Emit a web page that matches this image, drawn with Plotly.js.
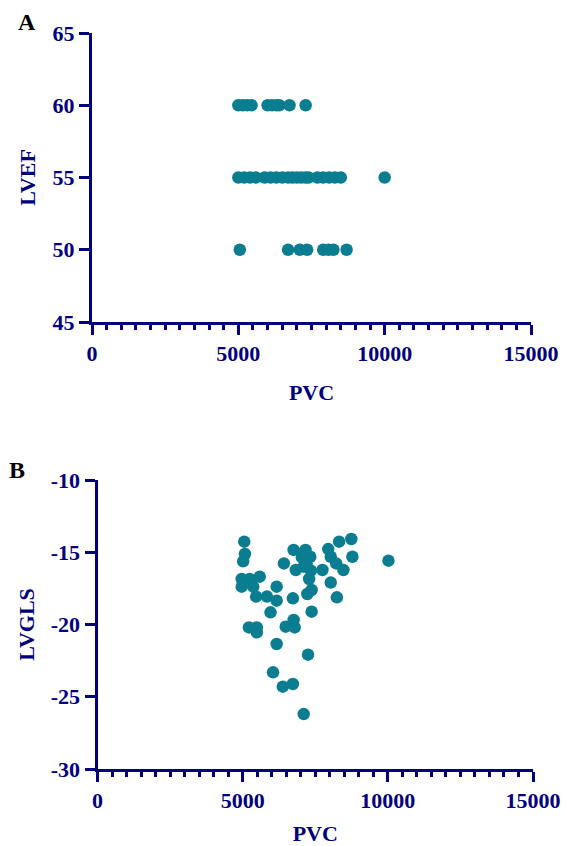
<!DOCTYPE html>
<html>
<head>
<meta charset="utf-8">
<script src="https://cdn.plot.ly/plotly-3.0.1.min.js"></script>
<style>html,body{margin:0;padding:0;background:#fff;}#chart{width:566px;height:846px;}</style>
</head>
<body>
<div id="chart"></div>
<script>
// Panel A: PVC vs LVEF
var pvcA = [5000, 5150, 5300, 5450, 6000, 6150, 6300, 6400, 6750, 7300,
            5000, 5200, 5400, 5600, 5900, 6100, 6300, 6500, 6700, 6850, 7000, 7150, 7300, 7400, 7700, 7900, 8100, 8300, 8500, 10000,
            5050, 6700, 7100, 7350, 7900, 8080, 8250, 8700];
var lvefA = [60, 60, 60, 60, 60, 60, 60, 60, 60, 60,
             55, 55, 55, 55, 55, 55, 55, 55, 55, 55, 55, 55, 55, 55, 55, 55, 55, 55, 55, 55,
             50, 50, 50, 50, 50, 50, 50, 50];
// Panel B: PVC vs LVGLS
var pvcB = [5054, 5079, 5017, 4967, 4967, 5240, 5364, 5588, 5463, 5836,
            6171, 6171, 5960, 5215, 5488, 5488, 6171, 6047, 6382, 6730,
            7103, 7251, 7376, 6420, 6755, 7165, 7327, 6830, 7103, 7351,
            7289, 7227, 7376, 6730, 6482, 6755, 6792, 7748, 7947, 8034,
            8034, 8220, 8245, 8320, 8469, 8742, 8779, 10021, 7200, 7040];
var lvglsB = [-14.27, -15.12, -15.63, -16.85, -17.38, -16.85, -17.38, -16.69, -18.07, -18.07,
              -17.38, -18.35, -19.16, -20.2, -20.2, -20.54, -21.35, -23.31, -24.3, -24.12,
              -26.2, -22.09, -19.11, -15.77, -14.84, -14.84, -15.31, -16.23, -16.0, -16.27,
              -16.85, -17.89, -17.61, -18.19, -20.15, -19.69, -20.2, -16.23, -14.78, -15.31,
              -17.1, -15.77, -18.12, -14.27, -16.23, -14.08, -15.31, -15.58, -15.77, -15.35];
var xTicks = [0, 5000, 10000, 15000];
var yTicksA = [45, 50, 55, 60, 65];
var yTicksB = [-30, -25, -20, -15, -10];

var NAVY = '#000080';
var TEAL = '#0a7d91';
var W = 566, H = 846;
var FAM = 'Liberation Serif, Times New Roman, serif';
var tickFont = {family: FAM, size: 22, color: NAVY, weight: 700};
var titleFont = {family: FAM, size: 22, color: NAVY, weight: 700};

function xAxis(l, r, anchor) {
  return {
    domain: [l / W, r / W], anchor: anchor, range: [0, 15000],
    tickvals: xTicks, ticktext: xTicks.map(String),
    ticks: 'outside', ticklen: 10, tickwidth: 3, tickcolor: NAVY,
    minor: {ticks: 'outside', ticklen: 5, tickwidth: 3, tickcolor: NAVY, dtick: 500, showgrid: false},
    showline: true, linewidth: 3, linecolor: NAVY, showgrid: false, zeroline: false,
    tickfont: tickFont, title: {text: 'PVC', font: titleFont, standoff: 20},
    fixedrange: true
  };
}
function yAxis(t, b, anchor, range, vals, title) {
  return {
    domain: [1 - b / H, 1 - t / H], anchor: anchor, range: range,
    tickvals: vals, ticktext: vals.map(String),
    ticks: 'outside', ticklen: 10, tickwidth: 3, tickcolor: NAVY,
    showline: true, linewidth: 3, linecolor: NAVY, showgrid: false, zeroline: false,
    tickfont: tickFont, title: {text: title, font: titleFont, standoff: 11},
    fixedrange: true
  };
}

var traces = [
  {x: pvcA, y: lvefA, xaxis: 'x', yaxis: 'y', type: 'scatter', mode: 'markers',
   marker: {size: 12.5, color: TEAL}, cliponaxis: false},
  {x: pvcB, y: lvglsB, xaxis: 'x2', yaxis: 'y2', type: 'scatter', mode: 'markers',
   marker: {size: 12.5, color: TEAL}, cliponaxis: false}
];

var layout = {
  width: W, height: H, showlegend: false,
  margin: {l: 0, r: 0, t: 0, b: 0},
  paper_bgcolor: '#fff', plot_bgcolor: '#fff',
  xaxis: xAxis(92, 531, 'y'),
  yaxis: yAxis(33, 322, 'x', [45, 65], yTicksA, 'LVEF'),
  xaxis2: xAxis(97.5, 533, 'y2'),
  yaxis2: yAxis(480, 769, 'x2', [-30, -10], yTicksB, 'LVGLS'),
  annotations: [
    {text: 'A', xref: 'paper', yref: 'paper', x: 16 / W, y: 1 - 7 / H, xanchor: 'left', yanchor: 'top',
     showarrow: false, font: {family: FAM, size: 24, color: '#000', weight: 700}},
    {text: 'B', xref: 'paper', yref: 'paper', x: 7 / W, y: 1 - 455 / H, xanchor: 'left', yanchor: 'top',
     showarrow: false, font: {family: FAM, size: 24, color: '#000', weight: 700}}
  ]
};

Plotly.newPlot('chart', traces, layout, {displayModeBar: false, staticPlot: true});
</script>
</body>
</html>
